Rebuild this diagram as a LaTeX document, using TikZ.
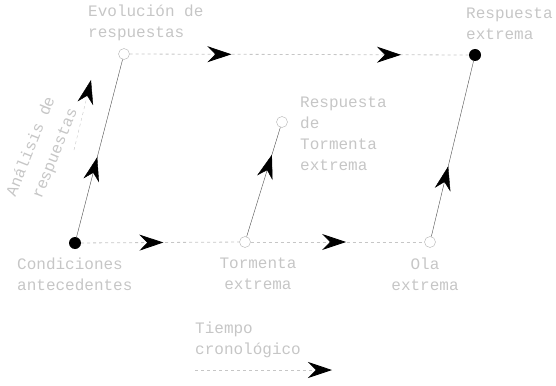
\documentclass[tikz,border=0pt]{standalone}
\usepackage{fontspec}
\setmonofont{Liberation Mono}
\usetikzlibrary{arrows.meta,decorations.markings}
\newcommand\bigtip{\arrow{Stealth[length=24pt,width=16pt,color=black]}}
\tikzset{
  dot/.style={circle,fill=black,inner sep=0pt,minimum size=12pt},
  hole/.style={circle,draw=gray!60,fill=white,inner sep=0pt,minimum size=11pt},
  lbl/.style={text=gray!45,font=\ttfamily\fontsize{16}{21}\selectfont,inner sep=0pt},
  midtip/.style={postaction={decorate,decoration={markings,mark=at position #1 with {\bigtip}}}},
  flow/.style={dashed,gray!45,thick},
  link/.style={gray!60!black,thin},
}
\begin{document}
\begin{tikzpicture}[x=1pt,y=-1pt]
\useasboundingbox (0,0) rectangle (556,385);
% states
\node[dot]  (cond) at (75,243) {};
\node[hole] (torm) at (245,242) {};
\node[hole] (ola)  at (430,242) {};
\node[hole] (evol) at (124,54) {};
\node[hole] (rtor) at (282,122) {};
\node[dot]  (rext) at (475,55) {};
% forcing and response
\draw[flow,midtip=0.52] (cond) -- (torm);
\draw[flow,midtip=0.55] (torm) -- (ola);
\draw[flow,midtip=0.3,midtip=0.8] (evol) -- (rext);
\draw[link,midtip=0.45] (cond) -- (evol);
\draw[link,midtip=0.75] (torm) -- (rtor);
\draw[link,midtip=0.4] (ola) -- (rext);
% labels
\node[lbl,align=left,anchor=north west] (condl) at (17,258) {Condiciones\\antecedentes};
\node[lbl,align=center,anchor=north] (torml) at (258,258) {Tormenta\\extrema};
\node[lbl,align=center,anchor=north] (olal) at (425,258) {Ola\\extrema};
\node[lbl,align=left,anchor=north west] (evoll) at (88,5) {Evolución de\\respuestas};
\node[lbl,align=left,anchor=north west] (rextl) at (466,8) {Respuesta\\extrema};
\node[lbl,align=left,anchor=north west] (rtorl) at (300,97) {Respuesta\\de\\Tormenta\\extrema};
\node[lbl,rotate=68] (anal) at (30,146) {Análisis de};
\node[lbl,rotate=68] (anal2) at (56,154) {respuestas};
\coordinate (a0) at (74,150);
\coordinate (a1) at (91,80);
\draw[flow,thin,midtip=1] (a0) -- (a1);
% time axis
\node[lbl,align=left,anchor=north west] (tiem) at (195,322) {Tiempo\\cronológico};
\coordinate (t0) at (195,370);
\coordinate (t1) at (332,370);
\draw[flow,midtip=1] (t0) -- (t1);
\end{tikzpicture}
\end{document}
